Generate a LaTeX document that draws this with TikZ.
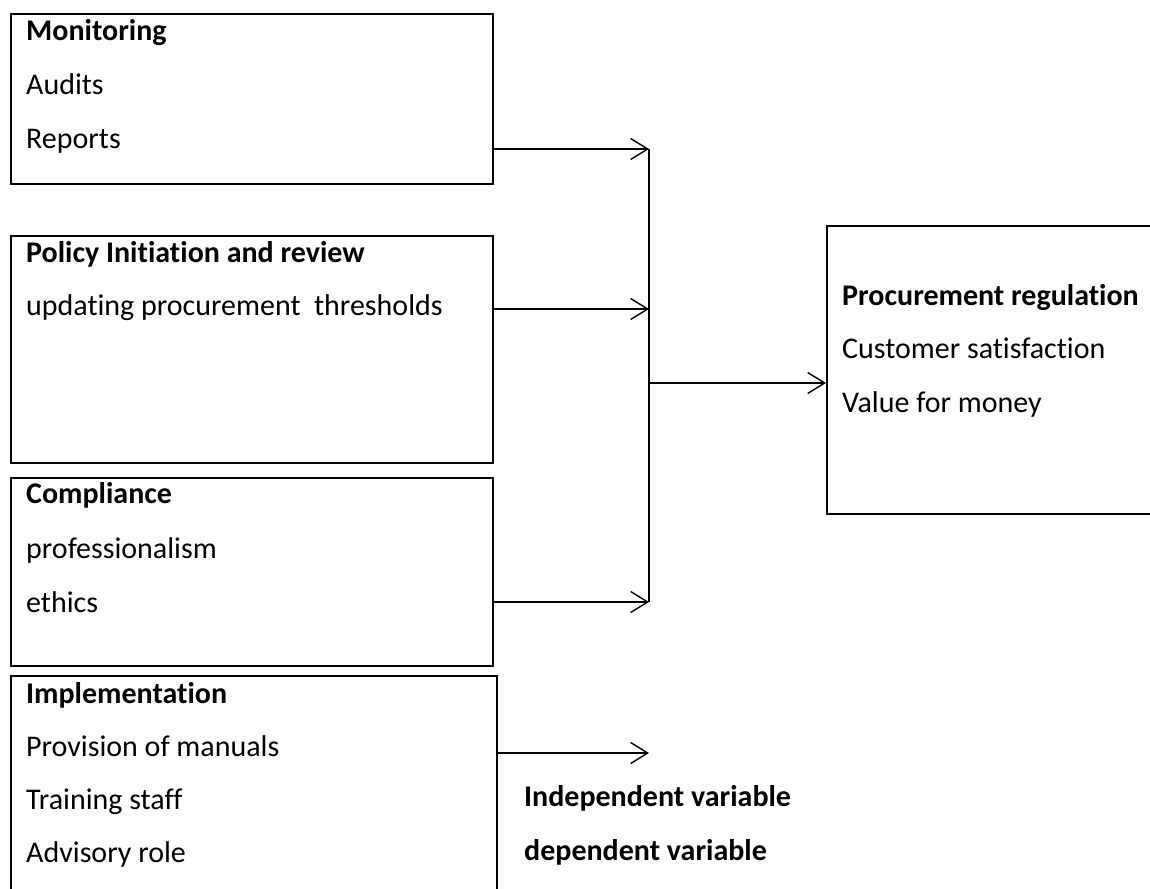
\documentclass[tikz,border=0pt]{standalone}
\usepackage{fontspec}
\setmainfont{Carlito}[Ligatures=NoCommon]
\usetikzlibrary{positioning,calc,arrows.meta}

\tikzset{
	box/.style={draw, rectangle, line width=1.8pt, anchor=north west, inner sep=0pt},
	txt/.style={anchor=base west, inner sep=0pt, font=\fontsize{30}{34}\selectfont},
	link/.style={line width=1.4pt, -{Straight Barb[length=17pt,width=21pt]}},
	bar/.style={line width=1.4pt},
}

\begin{document}
\begin{tikzpicture}[x=1pt,y=-1pt]
	\clip (0,0) rectangle (1150,888);
	% boxes
	\node[box, minimum width=482pt, minimum height=170pt] (mon) at (10,13) {};
	\node[box, minimum width=482pt, minimum height=227pt] (pol) at (10,235) {};
	\node[box, minimum width=482pt, minimum height=188pt] (comp) at (10,477) {};
	\node[box, minimum width=486pt, minimum height=260pt] (impl) at (10,675) {};
	\node[box, minimum width=400pt, minimum height=288pt] (res) at (826,225) {};
	%
	\node[txt] (montitle) at (26,41) {\textbf{Monitoring}};
	\node[txt] (audits) at ($(montitle.base west)+(0,54)$) {Audits};
	\node[txt] (reports) at ($(audits.base west)+(0,53)$) {Reports};
	%
	\node[txt] (poltitle) at (26,262) {\textbf{Policy Initiation and review}};
	\node[txt] (thresh) at ($(poltitle.base west)+(0,53)$) {updating procurement~ thresholds};
	%
	\node[txt] (comptitle) at (26,503) {\textbf{Compliance}};
	\node[txt] (prof) at ($(comptitle.base west)+(0,55)$) {professionalism};
	\node[txt] (ethics) at ($(prof.base west)+(0,54)$) {ethics};
	%
	\node[txt] (impltitle) at (26,703) {\textbf{Implementation}};
	\node[txt] (manuals) at ($(impltitle.base west)+(0,53)$) {Provision of manuals};
	\node[txt] (training) at ($(manuals.base west)+(0,53)$) {Training staff};
	\node[txt] (advisory) at ($(training.base west)+(0,53)$) {Advisory role};
	%
	\node[txt] (restitle) at (842,305) {\textbf{Procurement regulation}};
	\node[txt] (satisf) at ($(restitle.base west)+(0,53)$) {Customer satisfaction};
	\node[txt] (money) at ($(satisf.base west)+(0,54)$) {Value for money};
	%
	\node[txt] (indep) at (524,806) {\textbf{Independent variable}};
	\node[txt] (dep) at ($(indep.base west)+(0,54)$) {\textbf{dependent variable}};
	%
	\coordinate (j1) at (649,149);
	\coordinate (j2) at (649,309);
	\coordinate (j3) at (649,602);
	\coordinate (jm) at (649,383);
	\coordinate (j4) at (649,753);
	%
	\draw[link] (mon.east |- j1) -- (j1);
	\draw[link] (pol.east |- j2) -- (j2);
	\draw[link] (comp.east |- j3) -- (j3);
	\draw[bar] (j1) -- (j3);
	\draw[link] (jm) -- (res.west |- jm);
	\draw[link] (impl.east |- j4) -- (j4);
\end{tikzpicture}
\end{document}
